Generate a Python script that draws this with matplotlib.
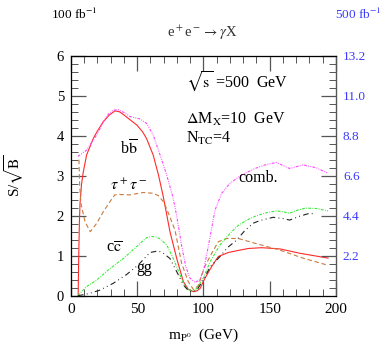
import matplotlib
matplotlib.use("Agg")
import matplotlib.pyplot as plt

plt.rcParams['font.family'] = 'Liberation Serif'
plt.rcParams['mathtext.fontset'] = 'stix'

# curves (m_P0 in GeV, S/sqrt(B) for 100 fb^-1)
bb_x = [5.4, 5.8, 6.3, 6.8, 8.0, 9.3, 11.8, 16.8, 20.0, 24.4, 29.0, 33.2, 36.5, 39.5, 44.5, 49.6, 54.0, 57.0, 62.0, 66.0,
        69.5, 74.7, 79.8, 84.8, 88.5, 92.3, 95.0, 97.4, 101.0, 106.2, 111.2, 118.8, 126.0, 133.8, 143.9, 157.7, 172.8, 194.0]
bb_y = [0.0, 0.9, 1.8, 2.3, 2.8, 3.1, 3.52, 3.93, 4.12, 4.35, 4.52, 4.62, 4.6, 4.53, 4.4, 4.27, 4.1, 3.93, 3.52, 3.02,
        2.5, 1.6, 0.93, 0.35, 0.16, 0.1, 0.12, 0.18, 0.43, 0.73, 0.98, 1.08, 1.13, 1.18, 1.2, 1.17, 1.06, 0.94]

tau_x = [6.0, 6.5, 7.5, 10.6, 14.5, 19.4, 24.4, 29.4, 33.0, 37.0, 44.5, 54.6, 62.0, 66.0, 69.7, 72.5, 78.5, 83.5,
         88.5, 92.5, 96.0, 101.0, 106.2, 111.2, 117.5, 126.3, 138.9, 157.7, 175.0, 194.0]
tau_y = [3.4, 2.8, 2.3, 1.85, 1.6, 1.81, 2.1, 2.35, 2.52, 2.53, 2.52, 2.58, 2.56, 2.5, 2.35, 2.15, 1.64, 0.81,
         0.35, 0.15, 0.25, 0.73, 1.06, 1.35, 1.43, 1.43, 1.31, 1.14, 0.94, 0.76]

cc_x = [5.3, 6.8, 11.8, 19.4, 29.4, 39.5, 49.6, 57.0, 60.9, 64.0, 67.2, 72.2, 77.2, 82.3, 86.0, 89.0, 92.0, 95.0,
        100.0, 105.0, 112.5, 120.0, 126.0, 132.6, 140.0, 147.0, 155.0, 160.0, 165.0, 170.0, 177.0, 185.0, 194.0]
cc_y = [0.0, 0.06, 0.23, 0.39, 0.68, 0.93, 1.23, 1.45, 1.48, 1.47, 1.42, 1.27, 0.93, 0.52, 0.23, 0.14, 0.12, 0.18,
        0.45, 0.85, 1.27, 1.56, 1.75, 1.89, 2.0, 2.07, 2.12, 2.1, 2.06, 2.13, 2.19, 2.18, 2.12]

gg_x = [5.3, 11.8, 14.3, 21.9, 31.9, 42.0, 50.8, 59.6, 66.0, 69.7, 74.7, 79.8, 84.8, 88.5, 92.0, 95.0, 100.0, 105.0,
        112.5, 118.0, 125.0, 131.0, 137.4, 142.6, 152.6, 160.0, 165.0, 172.0, 180.0, 184.0]
gg_y = [0.0, 0.04, 0.06, 0.14, 0.31, 0.53, 0.77, 1.08, 1.12, 1.06, 0.93, 0.6, 0.27, 0.13, 0.1, 0.14, 0.4, 0.72,
        0.98, 1.2, 1.39, 1.62, 1.81, 1.88, 1.96, 1.93, 1.89, 1.98, 2.06, 2.04]

comb_x = [5.2, 8.0, 11.8, 15.0, 19.4, 24.4, 28.5, 31.9, 35.7, 40.0, 44.5, 52.0, 57.0, 62.0, 67.2, 72.2, 77.2, 80.0,
          83.5, 86.5, 89.5, 93.6, 97.4, 100.5, 103.6, 108.7, 113.7, 120.0, 128.8, 138.9, 146.4, 155.0, 165.0, 175.0,
          185.0, 194.0]
comb_y = [3.48, 3.55, 3.64, 3.8, 4.02, 4.35, 4.55, 4.64, 4.65, 4.58, 4.48, 4.42, 4.31, 4.02, 3.52, 3.02, 2.43, 1.95,
          1.25, 0.75, 0.45, 0.33, 0.4, 0.7, 1.23, 2.14, 2.56, 2.81, 3.02, 3.18, 3.27, 3.33, 3.18, 3.27, 3.2, 3.06]

left_ticks = [0, 1, 2, 3, 4, 5, 6]
right_labels = ['2.2', '4.4', '6.6', '8.8', '11.0', '13.2']
blue = '#3b3bff'

fig = plt.figure(figsize=(3.85, 3.46), dpi=100)
ax = fig.add_axes([0.1844, 0.1454, 0.6883, 0.6936])

ax.plot(bb_x, bb_y, color='#ff2a2a', lw=0.8)
ax.plot(tau_x, tau_y, color='#c87a3c', lw=0.8, dashes=(4, 2.5))
ax.plot(cc_x, cc_y, color='#33ee33', lw=0.8, dashes=(2.5, 1.2, 0.8, 1.2))
ax.plot(gg_x, gg_y, color='#222222', lw=0.8, dashes=(5, 3, 0.8, 3, 0.8, 3))
ax.plot(comb_x, comb_y, color='#ff44ff', lw=0.8, dashes=(2.5, 1.2, 0.8, 1.2, 0.8, 1.2))

ax.set_xlim(0, 200)
ax.set_ylim(0, 6)
ax.set_xticks([0, 50, 100, 150, 200])
ax.set_xticks(range(0, 201, 10), minor=True)
ax.set_yticks(left_ticks)
ax.set_yticks([i * 0.2 for i in range(31)], minor=True)
ax.tick_params(which='both', direction='in', top=True, right=False, colors='#555555',
               labelcolor='black')
ax.tick_params(which='major', length=11, width=0.9)
ax.tick_params(which='minor', length=5, width=0.7)
ax.tick_params(axis='y', pad=5, labelsize=10.5)
ax.tick_params(axis='x', pad=5, labelsize=11)
for s in ax.spines.values():
    s.set_color('#555555')
    s.set_linewidth(0.9)

# right axis, 500 fb^-1 scale
ax2 = ax.twinx()
ax2.set_ylim(0, 6)
ax2.set_yticks(left_ticks[1:])
ax2.set_yticklabels(right_labels, color=blue)
ax2.set_yticks([i * 0.2 for i in range(31)], minor=True)
ax2.tick_params(which='both', direction='in', colors='#555555', labelsize=9.5)
ax2.tick_params(which='major', length=11, width=0.9, pad=5)
ax2.tick_params(which='minor', length=5, width=0.7)
for lab in ax2.get_yticklabels():
    lab.set_color(blue)
ax2.spines['right'].set_color('#555555')

ax.set_xlabel(r'm$_{\mathrm{P^0}}$  (GeV)', fontsize=11, labelpad=8)
ax.set_ylabel(r'S/$\sqrt{\mathrm{B}}$', fontsize=11, labelpad=22)

fig.text(0.192, 0.957, r'100 fb$^{-1}$', fontsize=9.5, ha='center', va='center')
fig.text(0.930, 0.957, r'500 fb$^{-1}$', fontsize=9.5, ha='center', va='center', color=blue)
fig.text(0.525, 0.905, r'e$^+$e$^-$$\rightarrow$$\gamma$X', fontsize=10.5, ha='center', va='center', color='#333333')

ax.text(87.0, 5.34, r'$\sqrt{\mathrm{s}}$ =500  GeV', fontsize=11.5, va='center')
ax.text(86.5, 4.4, r'$\Delta$M$_\mathrm{X}$=10  GeV', fontsize=11.5, va='center')
ax.text(86.5, 3.92, r'N$_\mathrm{TC}$=4', fontsize=11.5, va='center')
ax.text(126.5, 2.94, 'comb.', fontsize=11.5, va='center')
ax.text(43.8, 3.66, r'b$\overline{\mathrm{b}}$', fontsize=11.5, ha='center', va='center')
ax.text(43.8, 2.74, r'$\tau^+\tau^-$', fontsize=11.5, ha='center', va='center')
ax.text(32.5, 1.16, r'c$\overline{\mathrm{c}}$', fontsize=11.5, ha='center', va='center')
ax.text(55.5, 0.69, 'gg', fontsize=11.5, ha='center', va='center')

fig.savefig('out.png', dpi=100)
